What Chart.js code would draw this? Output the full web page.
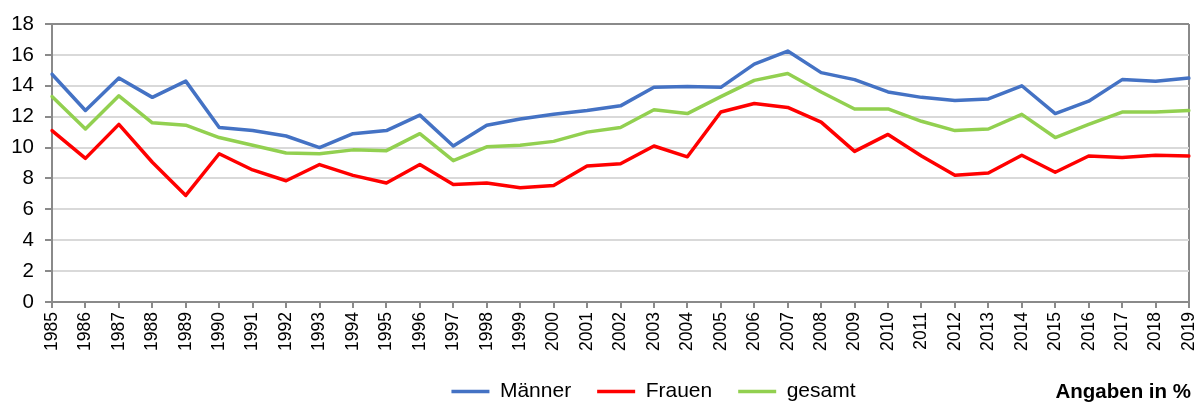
<!DOCTYPE html>
<html>
<head>
<meta charset="utf-8">
<script src="https://cdn.jsdelivr.net/npm/chart.js@4.4.1/dist/chart.umd.min.js"></script>
<style>
  html, body { margin: 0; padding: 0; background: #ffffff; }
  #wrap { width: 1197px; height: 403px; position: relative; }
</style>
</head>
<body>
<div id="wrap"><canvas id="c" width="1197" height="403"></canvas></div>
<script>
const years = ['1985','1986','1987','1988','1989','1990','1991','1992','1993','1994','1995','1996','1997','1998','1999','2000','2001','2002','2003','2004','2005','2006','2007','2008','2009','2010','2011','2012','2013','2014','2015','2016','2017','2018','2019'];
const maenner = [14.75, 12.4, 14.5, 13.25, 14.3, 11.3, 11.1, 10.75, 10.0, 10.9, 11.1, 12.1, 10.1, 11.45, 11.85, 12.15, 12.4, 12.7, 13.9, 13.95, 13.9, 15.4, 16.25, 14.85, 14.4, 13.6, 13.25, 13.05, 13.15, 14.0, 12.2, 13.0, 14.4, 14.3, 14.5];
const frauen = [11.1, 9.3, 11.5, 9.05, 6.9, 9.6, 8.55, 7.85, 8.9, 8.2, 7.7, 8.9, 7.6, 7.7, 7.4, 7.55, 8.8, 8.95, 10.1, 9.4, 12.3, 12.85, 12.6, 11.65, 9.75, 10.85, 9.45, 8.2, 8.35, 9.5, 8.4, 9.45, 9.35, 9.5, 9.45];
const gesamt = [13.3, 11.2, 13.35, 11.6, 11.45, 10.65, 10.15, 9.65, 9.6, 9.85, 9.8, 10.9, 9.15, 10.05, 10.15, 10.4, 11.0, 11.3, 12.45, 12.2, 13.3, 14.35, 14.8, 13.6, 12.5, 12.5, 11.7, 11.1, 11.2, 12.15, 10.65, 11.5, 12.3, 12.3, 12.4];
const seriesNames = ['Männer', 'Frauen', 'gesamt'];
const seriesColors = ['#4472C4', '#FF0000', '#92D050'];
const yTicks = [0, 2, 4, 6, 8, 10, 12, 14, 16, 18];
const unitNote = 'Angaben in %';

const AXIS_GRAY = '#8a8a8a';
const GRID_GRAY = '#d9d9d9';

const shiftLegend = {
  id: 'shiftLegend',
  afterLayout(chart) {
    const l = chart.legend;
    if (l) { l.left += 59; l.right += 59; l.top += 1; l.bottom += 1; }
  }
};
const note = {
  id: 'note',
  afterDraw(chart) {
    const ctx = chart.ctx;
    ctx.save();
    ctx.font = 'bold 20.5px "Liberation Sans", Arial, sans-serif';
    ctx.fillStyle = '#000000';
    ctx.textAlign = 'right';
    ctx.textBaseline = 'middle';
    ctx.fillText(unitNote, 1191, 392);
    ctx.restore();
  }
};

const makeSet = (i, data) => ({
  label: seriesNames[i],
  data: data,
  borderColor: seriesColors[i],
  backgroundColor: seriesColors[i],
  pointBorderColor: seriesColors[i],
  pointBackgroundColor: seriesColors[i],
  pointBorderWidth: 3.5,
  borderWidth: 3.5
});

new Chart(document.getElementById('c'), {
  type: 'line',
  data: {
    labels: years,
    datasets: [makeSet(0, maenner), makeSet(1, frauen), makeSet(2, gesamt)]
  },
  options: {
    responsive: false,
    animation: false,
    devicePixelRatio: 1,
    layout: { padding: { top: 24, right: 8, left: 0, bottom: -8 } },
    elements: {
      line: { tension: 0, borderCapStyle: 'round', borderJoinStyle: 'round' },
      point: { radius: 0, hoverRadius: 0 }
    },
    scales: {
      x: {
        offset: false,
        grid: {
          drawOnChartArea: true,
          color: (c) => (c.index === years.length - 1 ? AXIS_GRAY : 'rgba(0,0,0,0)'),
          lineWidth: 2,
          tickColor: AXIS_GRAY,
          tickLength: 6,
          tickWidth: 2
        },
        border: { color: AXIS_GRAY, width: 2 },
        ticks: {
          autoSkip: false,
          maxRotation: 90,
          minRotation: 90,
          padding: 4,
          color: '#000000',
          font: { family: '"Liberation Sans", Arial, sans-serif', size: 17.5 }
        },
        afterFit(scale) { scale.height = 52; scale.paddingRight = 0; scale.paddingLeft = 0; }
      },
      y: {
        min: 0,
        max: 18,
        afterBuildTicks(scale) { scale.ticks = yTicks.map(v => ({ value: v })); },
        grid: {
          color: (c) => (c.tick && c.tick.value === 18 ? AXIS_GRAY : GRID_GRAY),
          lineWidth: 2,
          tickColor: AXIS_GRAY,
          tickLength: 7,
          tickWidth: 2
        },
        border: { color: AXIS_GRAY, width: 2 },
        ticks: {
          padding: 11,
          color: '#000000',
          font: { family: '"Liberation Sans", Arial, sans-serif', size: 20.5 }
        },
        afterFit(scale) { scale.width = 52; }
      }
    },
    plugins: {
      legend: {
        position: 'bottom',
        labels: {
          usePointStyle: true,
          pointStyle: 'line',
          pointStyleWidth: 38,
          boxWidth: 38,
          boxHeight: 18,
          padding: 26,
          color: '#000000',
          font: { family: '"Liberation Sans", Arial, sans-serif', size: 21 }
        }
      },
      tooltip: { enabled: false },
      title: { display: false }
    }
  },
  plugins: [shiftLegend, note]
});
</script>
</body>
</html>
